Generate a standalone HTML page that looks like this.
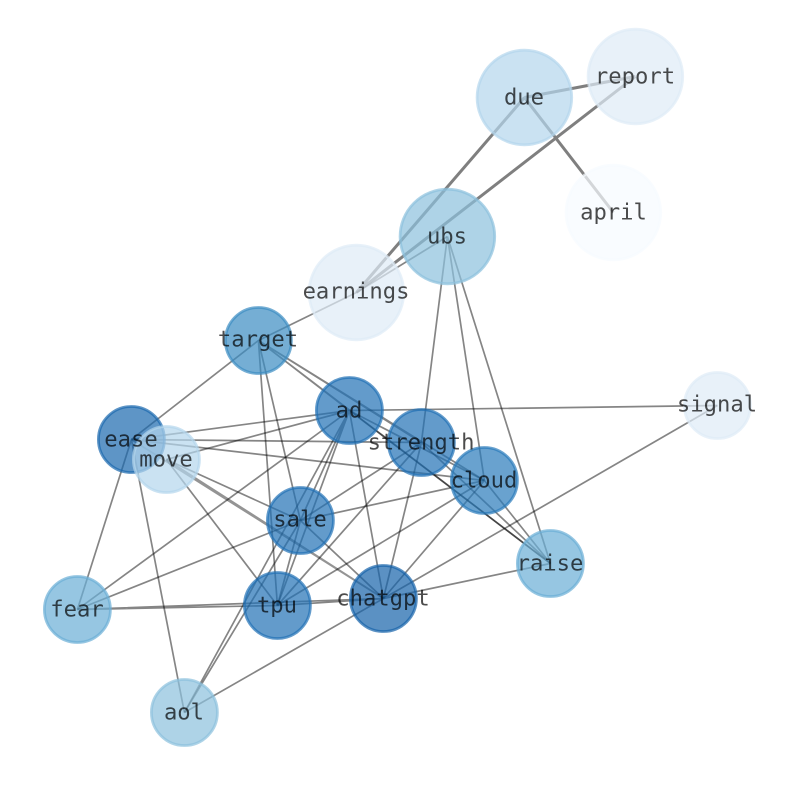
<!DOCTYPE html>
<html><head><meta charset="utf-8"><style>
html,body{margin:0;padding:0;background:#fff}
svg{display:block}
text{font-family:"DejaVu Sans Mono",monospace;font-size:22.2px;fill:#000;fill-opacity:.7;text-anchor:middle}
</style></head><body>
<svg width="794" height="790" viewBox="0 0 794 790">
<rect width="794" height="790" fill="#fff"/>
<g transform="translate(.4 .5)">
<g stroke="#000" stroke-opacity=".5" stroke-width="3" fill="none">
<path d="M524 97L635 76M524 97L613 212M524 97L356 292M635 76L356 292"/>
</g>
<g stroke="#000" stroke-opacity=".48" stroke-width="1.7" fill="none">
<path d="M447 236L356 292M356 292L258 340"/>
<path d="M447 236L421 442M447 236L484 480M447 236L550 563"/>
<path d="M258 340L131 439M258 340L277 605M258 340L300 520M258 340L349 410M258 340L421 442M258 340L484 480M258 340L550 563"/>
<path d="M349 410L131 439M349 410L166 459M349 410L717 405M349 410L300 520M349 410L277 605M349 410L383 598M349 410L184 712M349 410L77 609M349 410L484 480M349 410L550 563"/>
<path d="M131 439L421 442M131 439L484 480M131 439L77 609M131 439L184 712"/>
<path d="M166 459L300 520M166 459L277 605"/>
<path d="M421 442L300 520M421 442L277 605M421 442L383 598M421 442L550 563"/>
<path d="M484 480L300 520M484 480L277 605M484 480L383 598M484 480L550 563"/>
<path d="M717 405L383 598M550 563L383 598"/>
<path d="M300 520L277 605M300 520L383 598M300 520L77 609M300 520L184 712"/>
<path d="M277 605L383 598M77 609L277 605M77 609L383 598M184 712L383 598"/>
</g>
<g stroke="#000" stroke-opacity=".42" stroke-width="1.8" fill="none">
<path d="M131 439L383 598M166 459L383 598"/>
</g>
<g stroke-width="2.8" fill-opacity=".7" stroke-opacity=".7">
<circle cx="524" cy="97" r="47.300" fill="#b4d5ec" stroke="#b4d5ec"/>
<circle cx="635" cy="76" r="47.300" fill="#deebf7" stroke="#deebf7"/>
<circle cx="613" cy="212" r="47.300" fill="#f7fbff" stroke="#f7fbff"/>
<circle cx="447" cy="236" r="47.300" fill="#8bc1dd" stroke="#8bc1dd"/>
<circle cx="356" cy="292" r="47.300" fill="#deebf7" stroke="#deebf7"/>
<circle cx="258" cy="340" r="33" fill="#3a8bc2" stroke="#3a8bc2"/>
<circle cx="349" cy="410" r="33" fill="#2171b5" stroke="#2171b5"/>
<circle cx="421" cy="442" r="33" fill="#2171b5" stroke="#2171b5"/>
<circle cx="484" cy="480" r="33" fill="#2a7aba" stroke="#2a7aba"/>
<circle cx="717" cy="405" r="33" fill="#deebf7" stroke="#deebf7"/>
<circle cx="550" cy="563" r="33" fill="#6aaed6" stroke="#6aaed6"/>
<circle cx="131" cy="439" r="33" fill="#1a68ae" stroke="#1a68ae"/>
<circle cx="166" cy="459" r="33" fill="#b4d5ec" stroke="#b4d5ec"/>
<circle cx="300" cy="520" r="33" fill="#2171b5" stroke="#2171b5"/>
<circle cx="383" cy="598" r="33" fill="#1663a9" stroke="#1663a9"/>
<circle cx="277" cy="605" r="33" fill="#2171b5" stroke="#2171b5"/>
<circle cx="77" cy="609" r="33" fill="#6aaed6" stroke="#6aaed6"/>
<circle cx="184" cy="712" r="33" fill="#8bc1dd" stroke="#8bc1dd"/>
</g>
<g transform="translate(-.4 0)">
<text x="524" y="104">due</text>
<text x="635" y="83">report</text>
<text x="613.500" y="219">april</text>
<text x="447" y="243">ubs</text>
<text x="356" y="298">earnings</text>
<text x="258" y="346">target</text>
<text x="349" y="417">ad</text>
<text x="421" y="449">strength</text>
<text x="484" y="487">cloud</text>
<text x="717" y="411">signal</text>
<text x="550" y="570">raise</text>
<text x="131" y="446">ease</text>
<text x="166" y="466">move</text>
<text x="300" y="526">sale</text>
<text x="383" y="605">chatgpt</text>
<text x="277" y="612">tpu</text>
<text x="77" y="616">fear</text>
<text x="184" y="719">aol</text>
</g>
</g>
</svg>
</body></html>
